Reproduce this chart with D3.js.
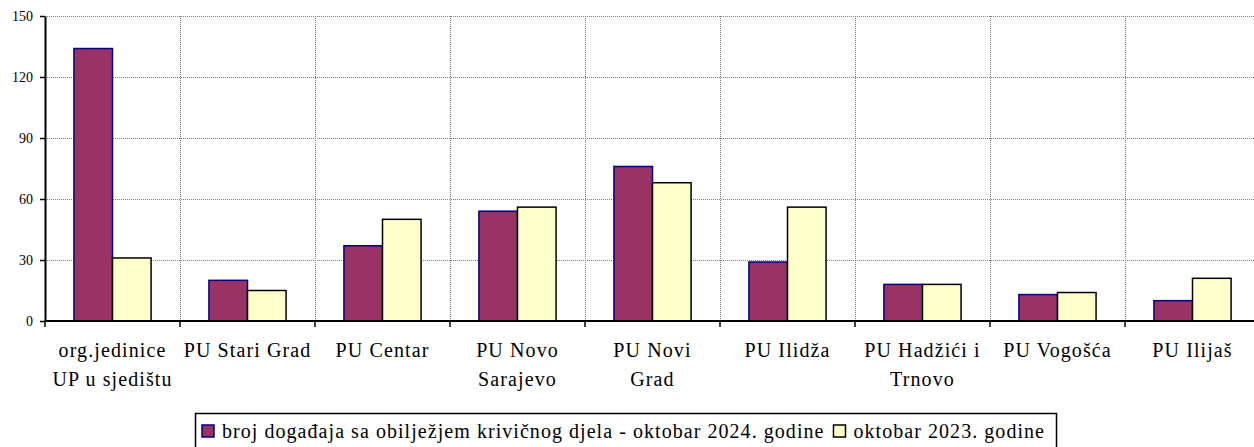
<!DOCTYPE html>
<html>
<head>
<meta charset="utf-8">
<script src="https://cdn.jsdelivr.net/npm/d3@7/dist/d3.min.js"></script>
</head>
<body style="margin:0">
<script>
// data
const categories = [
  ["org.jedinice", "UP u sjedištu"],
  ["PU Stari Grad"],
  ["PU Centar"],
  ["PU Novo", "Sarajevo"],
  ["PU Novi", "Grad"],
  ["PU Ilidža"],
  ["PU Hadžići i", "Trnovo"],
  ["PU Vogošća"],
  ["PU Ilijaš"]
]
const values2024 = [134, 20, 37, 54, 76, 29, 18, 13, 10]
const values2023 = [31, 15, 50, 56, 68, 56, 18, 14, 21]
const yTicks = [0, 30, 60, 90, 120, 150]
const seriesNames = ["broj događaja sa obilježjem krivičnog djela - oktobar 2024. godine", "oktobar 2023. godine"]

const FONT = "Liberation Serif"
const W = 1254, H = 447
const margin = {top: 16, right: -6, bottom: 126, left: 45}
const innerW = W - margin.left - margin.right
const innerH = H - margin.top - margin.bottom

let svg = d3.select("body").append("svg").attr("width", W).attr("height", H)
let g = svg.append("g").attr("transform", "translate(" + margin.left + "," + margin.top + ")")

let xScale = d3.scaleBand().domain(d3.range(categories.length)).range([0, innerW])
// Excel-like gap width: two bars + 1.5 bar gap
let bw = xScale.bandwidth()
let inner = d3.scaleBand().domain([0, 1]).range([bw * 0.75 / 3.5, bw * (1 - 0.75 / 3.5)])
let yScale = d3.scaleLinear().domain([0, 150]).range([innerH, 0])

// grid
let grid = g.append("g").attr("id", "grid")
grid.selectAll(".hgrid").data(yTicks.filter(d => d > 0)).enter().append("line")
  .attr("x1", 0).attr("x2", innerW)
  .attr("y1", d => Math.round(yScale(d)) + 0.5).attr("y2", d => Math.round(yScale(d)) + 0.5)
  .attr("stroke", "#808080").attr("stroke-dasharray", "1,1")
grid.selectAll(".vgrid").data(d3.range(1, categories.length)).enter().append("line")
  .attr("x1", d => Math.round(xScale(d)) + 0.5).attr("x2", d => Math.round(xScale(d)) + 0.5)
  .attr("y1", 0).attr("y2", innerH)
  .attr("stroke", "#808080").attr("stroke-dasharray", "1,1")

// bars
let groups = g.selectAll(".cat").data(categories).enter().append("g")
  .attr("transform", (d, i) => "translate(" + xScale(i) + ",0)")
groups.append("rect")
  .attr("x", inner(0)).attr("width", inner.bandwidth())
  .attr("y", (d, i) => yScale(values2024[i])).attr("height", (d, i) => innerH - yScale(values2024[i]))
  .attr("fill", "#993366").attr("stroke", "#000080").attr("stroke-width", 1.5)
groups.append("rect")
  .attr("x", inner(1)).attr("width", inner.bandwidth())
  .attr("y", (d, i) => yScale(values2023[i])).attr("height", (d, i) => innerH - yScale(values2023[i]))
  .attr("fill", "#FFFFCC").attr("stroke", "#000").attr("stroke-width", 1.5)

// y axis
let yAxis = g.append("g").call(d3.axisLeft(yScale).tickValues(yTicks).tickSize(5).tickSizeOuter(0).tickPadding(7))
yAxis.attr("font-family", null).attr("font-size", null)
yAxis.select(".domain").attr("stroke-width", 2)
yAxis.selectAll(".tick line").attr("stroke-width", 1.5)
yAxis.selectAll("text").attr("font-family", FONT).attr("font-size", 14)

// x axis
let xAxisG = g.append("g").attr("transform", "translate(0," + innerH + ")")
xAxisG.append("line").attr("x1", 0).attr("x2", innerW).attr("stroke", "#000").attr("stroke-width", 2)
xAxisG.selectAll(".xtick").data(d3.range(0, categories.length)).enter().append("line")
  .attr("x1", d => xScale(d)).attr("x2", d => xScale(d))
  .attr("y1", 0).attr("y2", 6).attr("stroke", "#000").attr("stroke-width", 1.5)
categories.forEach((lines, i) => {
  lines.forEach((line, j) => {
    xAxisG.append("text")
      .attr("x", xScale(i) + bw / 2).attr("y", 36 + j * 29)
      .attr("text-anchor", "middle")
      .attr("font-family", FONT).attr("font-size", 20).attr("letter-spacing", 1.1)
      .text(line)
  })
})

// legend
let legend = svg.append("g").attr("transform", "translate(195,413)")
legend.append("rect").attr("x", 0.5).attr("y", 0.5).attr("width", 861).attr("height", 40)
  .attr("fill", "#fff").attr("stroke", "#000").attr("stroke-width", 1.5)
let lx = 7
let colors = [["#993366", "#000080"], ["#FFFFCC", "#000"]]
seriesNames.forEach((name, i) => {
  legend.append("rect").attr("x", lx).attr("y", 12).attr("width", 12).attr("height", 12)
    .attr("fill", colors[i][0]).attr("stroke", colors[i][1]).attr("stroke-width", 1.5)
  let t = legend.append("text").attr("x", lx + 20).attr("y", 25)
    .attr("font-family", FONT).attr("font-size", 20).attr("letter-spacing", 1.05).text(name)
  lx += 20 + t.node().getComputedTextLength() + 9
})
</script>
</body>
</html>
